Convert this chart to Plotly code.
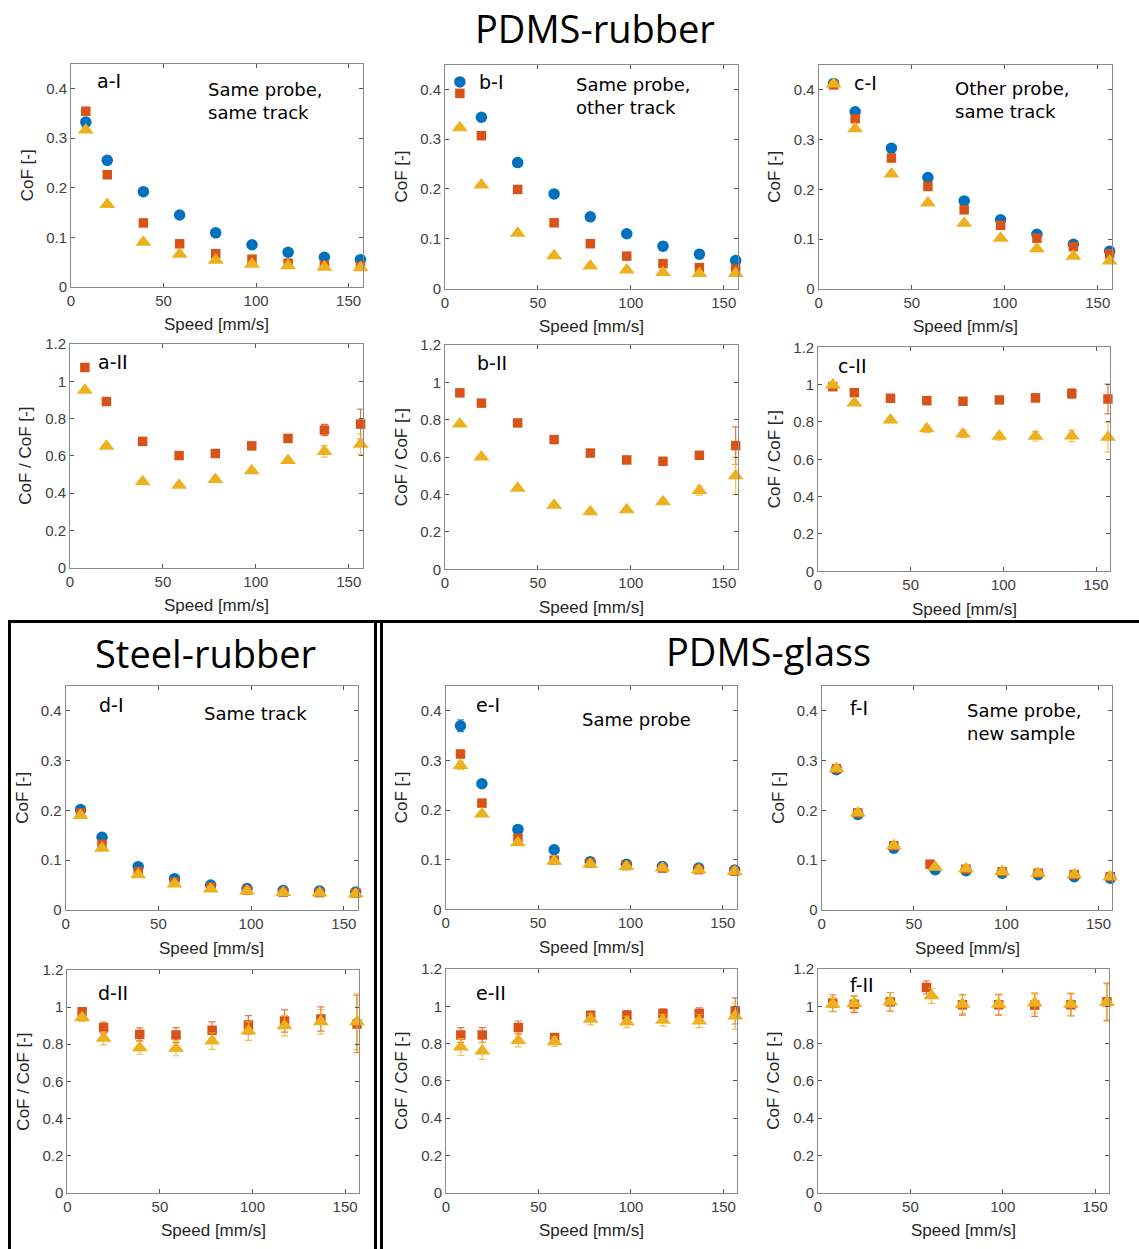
import plotly.graph_objects as go

W, H = 1139, 1249

# ---------------- data ----------------
speed = [8, 19.6, 39.1, 58.7, 78.2, 97.8, 117.3, 136.9, 156.4]
speed_f_alt = [8, 19.6, 39.1, 61.5, 78.2, 97.8, 117.3, 136.9, 156.4]

x_ticks = [0, 50, 100, 150]
cof_ticks = [0, 0.1, 0.2, 0.3, 0.4]
cof_ticktext = ["0", "0.1", "0.2", "0.3", "0.4"]
ratio_ticks = [0, 0.2, 0.4, 0.6, 0.8, 1.0, 1.2]
ratio_ticktext = ["0", "0.2", "0.4", "0.6", "0.8", "1", "1.2"]

# PDMS-rubber, CoF
aI_blue = [0.332, 0.255, 0.192, 0.145, 0.109, 0.085, 0.070, 0.060, 0.055]
aI_orange = [0.354, 0.226, 0.129, 0.087, 0.067, 0.056, 0.048, 0.044, 0.042]
aI_yellow = [0.316, 0.166, 0.090, 0.066, 0.054, 0.046, 0.043, 0.040, 0.039]

bI_blue = [0.415, 0.344, 0.253, 0.190, 0.144, 0.110, 0.085, 0.069, 0.056]
bI_orange = [0.392, 0.307, 0.199, 0.132, 0.090, 0.065, 0.050, 0.042, 0.039]
bI_yellow = [0.323, 0.208, 0.111, 0.066, 0.045, 0.037, 0.032, 0.030, 0.030]

cI_blue = [0.413, 0.356, 0.283, 0.224, 0.177, 0.139, 0.110, 0.090, 0.076]
cI_orange = [0.410, 0.342, 0.263, 0.206, 0.159, 0.128, 0.102, 0.085, 0.071]
cI_yellow = [0.412, 0.322, 0.231, 0.173, 0.132, 0.102, 0.081, 0.066, 0.056]

# PDMS-rubber, normalised CoF
aII_orange = [1.074, 0.891, 0.677, 0.601, 0.612, 0.653, 0.693, 0.738, 0.770]
aII_orange_err = [0.01, 0.01, 0.01, 0.01, 0.01, 0.012, 0.015, 0.03, 0.08]
aII_yellow = [0.952, 0.651, 0.461, 0.441, 0.473, 0.520, 0.574, 0.623, 0.662]
aII_yellow_err = [0.01, 0.01, 0.01, 0.01, 0.01, 0.012, 0.015, 0.03, 0.055]

bII_orange = [0.944, 0.889, 0.783, 0.694, 0.622, 0.585, 0.578, 0.610, 0.662]
bII_orange_err = [0.01, 0.01, 0.01, 0.01, 0.01, 0.01, 0.012, 0.02, 0.10]
bII_yellow = [0.778, 0.601, 0.433, 0.343, 0.308, 0.318, 0.361, 0.422, 0.500]
bII_yellow_err = [0.01, 0.01, 0.01, 0.01, 0.01, 0.01, 0.015, 0.025, 0.10]

cII_orange = [0.989, 0.957, 0.927, 0.914, 0.911, 0.918, 0.929, 0.952, 0.923]
cII_orange_err = [0.01, 0.01, 0.01, 0.01, 0.015, 0.015, 0.02, 0.025, 0.08]
cII_yellow = [0.998, 0.902, 0.811, 0.763, 0.736, 0.723, 0.723, 0.725, 0.718]
cII_yellow_err = [0.01, 0.01, 0.015, 0.02, 0.02, 0.02, 0.025, 0.03, 0.08]

# Steel-rubber
dI_blue = [0.202, 0.146, 0.087, 0.063, 0.050, 0.043, 0.039, 0.038, 0.036]
dI_orange = [0.195, 0.132, 0.077, 0.056, 0.046, 0.040, 0.036, 0.035, 0.034]
dI_yellow = [0.190, 0.124, 0.071, 0.052, 0.042, 0.038, 0.035, 0.034, 0.032]

dII_orange = [0.975, 0.889, 0.853, 0.850, 0.875, 0.904, 0.925, 0.936, 0.909]
dII_orange_err = [0.02, 0.03, 0.035, 0.04, 0.045, 0.05, 0.06, 0.065, 0.155]
dII_yellow = [0.943, 0.832, 0.781, 0.778, 0.817, 0.871, 0.900, 0.921, 0.921]
dII_yellow_err = [0.02, 0.035, 0.035, 0.04, 0.045, 0.05, 0.055, 0.065, 0.15]

# PDMS-glass
eI_blue = [0.370, 0.253, 0.161, 0.120, 0.096, 0.091, 0.086, 0.083, 0.079]
eI_blue_err = [0.012, 0.004, 0.003, 0.002, 0.002, 0.002, 0.002, 0.002, 0.002]
eI_orange = [0.313, 0.214, 0.143, 0.099, 0.093, 0.088, 0.083, 0.080, 0.077]
eI_orange_err = [0.008, 0.004, 0.003, 0.002, 0.002, 0.002, 0.002, 0.002, 0.002]
eI_yellow = [0.290, 0.192, 0.134, 0.097, 0.091, 0.086, 0.083, 0.079, 0.076]
eI_yellow_err = [0.008, 0.004, 0.003, 0.002, 0.002, 0.002, 0.002, 0.002, 0.002]

fI_blue = [0.282, 0.192, 0.124, 0.081, 0.079, 0.074, 0.071, 0.067, 0.064]
fI_orange = [0.284, 0.195, 0.129, 0.092, 0.082, 0.077, 0.074, 0.071, 0.067]
fI_yellow = [0.284, 0.195, 0.129, 0.086, 0.083, 0.077, 0.074, 0.071, 0.067]

eII_orange = [0.846, 0.846, 0.886, 0.832, 0.952, 0.952, 0.961, 0.961, 0.975]
eII_orange_err = [0.04, 0.04, 0.035, 0.02, 0.02, 0.025, 0.025, 0.03, 0.07]
eII_yellow = [0.781, 0.760, 0.817, 0.810, 0.930, 0.916, 0.925, 0.921, 0.948]
eII_yellow_err = [0.045, 0.045, 0.035, 0.025, 0.03, 0.03, 0.03, 0.035, 0.07]

fII_orange = [1.017, 1.011, 1.024, 1.101, 1.008, 1.008, 1.006, 1.008, 1.024]
fII_orange_err = [0.045, 0.045, 0.05, 0.035, 0.055, 0.055, 0.06, 0.06, 0.10]
fII_yellow = [1.011, 1.015, 1.024, 1.056, 1.011, 1.011, 1.018, 1.011, 1.020]
fII_yellow_err = [0.04, 0.04, 0.05, 0.04, 0.05, 0.055, 0.055, 0.06, 0.10]

# ---------------- styles ----------------
BLUE, ORANGE, YELLOW = "#0072BD", "#D95319", "#EDB120"
BLUE_E, ORANGE_E, YELLOW_E = "rgba(0,114,189,0.8)", "rgba(217,83,25,0.8)", "rgba(237,177,32,0.8)"
STYLE = {
    "blue": dict(color=BLUE, ecolor=BLUE_E, symbol="circle", size=11.5),
    "orange": dict(color=ORANGE, ecolor=ORANGE_E, symbol="square", size=9.5),
    "yellow": dict(color=YELLOW, ecolor=YELLOW_E, symbol="triangle-up", size=14),
}

TICK_FONT = dict(family="Liberation Sans, Arial, sans-serif", size=15, color="#404040")
AXT_FONT = dict(family="Liberation Sans, Arial, sans-serif", size=17, color="#262626")
LAB_FONT = dict(family="DejaVu Sans, Verdana, sans-serif", size=19, color="#000000")
NOTE_FONT = dict(family="DejaVu Sans, Verdana, sans-serif", size=18, color="#000000")
BIG_FONT = dict(family="Open Sans, sans-serif", size=38, color="#000000")


def pxx(x):
    return x / W


def pxy(y):
    return 1 - y / H


# panel: box (left, top, right, bottom) in px, kind, label, label offset, series, note
panels = [
    dict(box=(71, 63.5, 362.5, 287), kind="I", label="a-I", lo=(24, 17),
         series=[("blue", speed, aI_blue, None), ("orange", speed, aI_orange, None), ("yellow", speed, aI_yellow, None)],
         note=("Same probe,<br>same track", 206, 101)),
    dict(box=(445, 64.5, 737.7, 288.5), kind="I", label="b-I", lo=(32, 18),
         series=[("blue", speed, bI_blue, None), ("orange", speed, bI_orange, None), ("yellow", speed, bI_yellow, None)],
         note=("Same probe,<br>other track", 574, 96)),
    dict(box=(818.7, 65, 1111.7, 289), kind="I", label="c-I", lo=(33, 18),
         series=[("blue", speed, cI_blue, None), ("orange", speed, cI_orange, None), ("yellow", speed, cI_yellow, None)],
         note=("Other probe,<br>same track", 953, 100)),
    dict(box=(70, 344, 362.7, 567.5), kind="II", label="a-II", lo=(26, 18),
         series=[("orange", speed, aII_orange, aII_orange_err), ("yellow", speed, aII_yellow, aII_yellow_err)],
         note=None),
    dict(box=(445, 345, 737.7, 569.3), kind="II", label="b-II", lo=(30, 18),
         series=[("orange", speed, bII_orange, bII_orange_err), ("yellow", speed, bII_yellow, bII_yellow_err)],
         note=None),
    dict(box=(818, 347.3, 1110, 571.3), kind="II", label="c-II", lo=(18, 19),
         series=[("orange", speed, cII_orange, cII_orange_err), ("yellow", speed, cII_yellow, cII_yellow_err)],
         note=None),
    dict(box=(65.7, 686, 357.7, 910), kind="I", label="d-I", lo=(31, 19),
         series=[("blue", speed, dI_blue, None), ("orange", speed, dI_orange, None), ("yellow", speed, dI_yellow, None)],
         note=("Same track", 202, 713)),
    dict(box=(445.7, 686, 736.7, 909.3), kind="I", label="e-I", lo=(28, 19),
         series=[("blue", speed, eI_blue, eI_blue_err), ("orange", speed, eI_orange, eI_orange_err),
                 ("yellow", speed, eI_yellow, eI_yellow_err)],
         note=("Same probe", 580, 719)),
    dict(box=(821.7, 686, 1112.3, 910), kind="I", label="f-I", lo=(26, 22),
         series=[("blue", speed_f_alt, fI_blue, None), ("orange", speed, fI_orange, None),
                 ("yellow", speed_f_alt, fI_yellow, None)],
         note=("Same probe,<br>new sample", 965, 722)),
    dict(box=(67.3, 970, 359, 1192.7), kind="II", label="d-II", lo=(29, 23),
         series=[("orange", speed, dII_orange, dII_orange_err), ("yellow", speed, dII_yellow, dII_yellow_err)],
         note=None),
    dict(box=(446, 969, 737.3, 1192.7), kind="II", label="e-II", lo=(28, 24),
         series=[("orange", speed, eII_orange, eII_orange_err), ("yellow", speed, eII_yellow, eII_yellow_err)],
         note=None),
    dict(box=(818, 969, 1109, 1192.7), kind="II", label="f-II", lo=(30, 16),
         series=[("orange", speed, fII_orange, fII_orange_err), ("yellow", speed_f_alt, fII_yellow, fII_yellow_err)],
         note=None),
]

fig = go.Figure()
annotations = []
layout_axes = {}

for i, p in enumerate(panels, start=1):
    l, t, r, b = p["box"]
    xa = "x" if i == 1 else f"x{i}"
    ya = "y" if i == 1 else f"y{i}"
    xkey = "xaxis" if i == 1 else f"xaxis{i}"
    ykey = "yaxis" if i == 1 else f"yaxis{i}"

    common = dict(showgrid=False, zeroline=False, showline=True, linecolor="#8a8a8a", linewidth=1,
                  mirror="ticks", ticks="inside", ticklen=4, tickcolor="#555555", tickwidth=1,
                  tickfont=TICK_FONT, automargin=False, fixedrange=True)
    layout_axes[xkey] = dict(domain=[pxx(l), pxx(r)], anchor=ya, range=[0, 157.5],
                             tickmode="array", tickvals=x_ticks, ticktext=[str(v) for v in x_ticks], **common)
    if p["kind"] == "I":
        layout_axes[ykey] = dict(domain=[pxy(b), pxy(t)], anchor=xa, range=[0, 0.45],
                                 tickmode="array", tickvals=cof_ticks, ticktext=cof_ticktext, **common)
        ytitle = "CoF [-]"
    else:
        layout_axes[ykey] = dict(domain=[pxy(b), pxy(t)], anchor=xa, range=[0, 1.2],
                                 tickmode="array", tickvals=ratio_ticks, ticktext=ratio_ticktext, **common)
        ytitle = "CoF / CoF [-]"

    for name, xs, ys, err in p["series"]:
        st = STYLE[name]
        tr = dict(x=xs, y=ys, mode="markers", xaxis=xa, yaxis=ya, showlegend=False, cliponaxis=False,
                  marker=dict(color=st["color"], symbol=st["symbol"], size=st["size"], line=dict(width=0)))
        if err is not None:
            tr["error_y"] = dict(type="data", array=err, visible=True, color=st["ecolor"], thickness=1.2, width=3.5)
        fig.add_trace(go.Scatter(**tr))

    # axis titles
    annotations.append(dict(text="Speed [mm/s]", x=pxx((l + r) / 2), y=pxy(b + 38), xref="paper", yref="paper",
                            xanchor="center", yanchor="middle", showarrow=False, font=AXT_FONT))
    annotations.append(dict(text=ytitle, x=pxx(l - 44), y=pxy((t + b) / 2), xref="paper", yref="paper",
                            xanchor="center", yanchor="middle", textangle=-90, showarrow=False, font=AXT_FONT))
    # panel label
    annotations.append(dict(text=p["label"], x=pxx(l + p["lo"][0]), y=pxy(t + p["lo"][1]), xref="paper",
                            yref="paper", xanchor="left", yanchor="middle", showarrow=False, font=LAB_FONT))
    if p["note"]:
        txt, nx, ny = p["note"]
        annotations.append(dict(text=txt, x=pxx(nx), y=pxy(ny), xref="paper", yref="paper", xanchor="left",
                                yanchor="middle", align="left", showarrow=False, font=NOTE_FONT))

# group titles
for txt, cx, cy in [("PDMS-rubber", 595, 28), ("Steel-rubber", 205.5, 653), ("PDMS-glass", 768.5, 651)]:
    annotations.append(dict(text=txt, x=pxx(cx), y=pxy(cy), xref="paper", yref="paper", xanchor="center",
                            yanchor="middle", showarrow=False, font=BIG_FONT))

# frame lines
shapes = []
line_specs = [
    (8, 621.5, 1139, 621.5),
    (9.5, 621, 9.5, 1249),
    (375.5, 621, 375.5, 1249),
    (381.5, 621, 381.5, 1249),
]
for x0, y0, x1, y1 in line_specs:
    shapes.append(dict(type="line", xref="paper", yref="paper", x0=pxx(x0), y0=pxy(y0), x1=pxx(x1), y1=pxy(y1),
                       line=dict(color="#000000", width=3)))

fig.update_layout(width=W, height=H, margin=dict(l=0, r=0, t=0, b=0), paper_bgcolor="white",
                  plot_bgcolor="white", annotations=annotations, shapes=shapes, **layout_axes)

fig.write_html("out.html")
